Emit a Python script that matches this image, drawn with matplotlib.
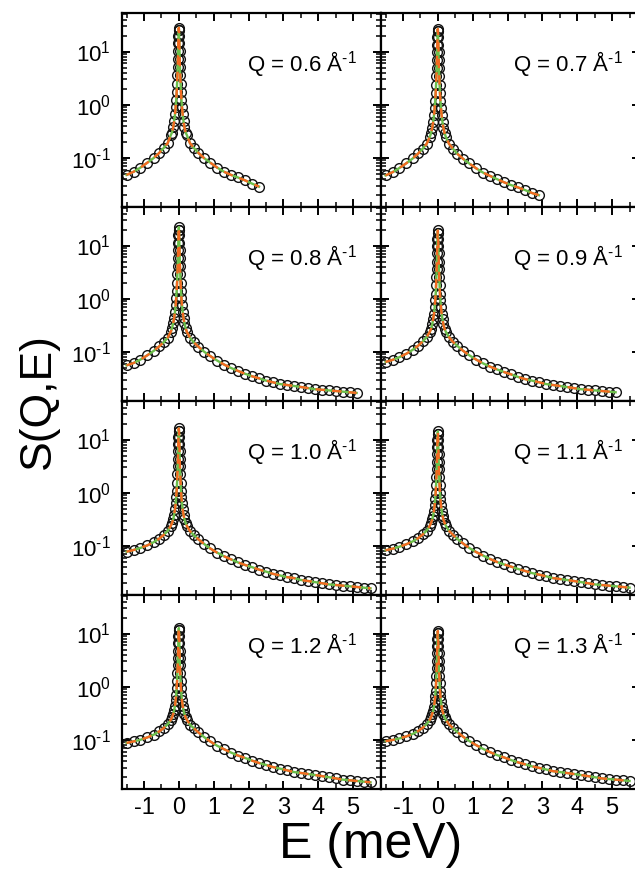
import matplotlib
matplotlib.use('Agg')
import matplotlib.pyplot as plt
from matplotlib.ticker import MultipleLocator, FixedLocator, FixedFormatter

plt.rcParams['font.family'] = ['Liberation Sans', 'DejaVu Sans']
plt.rcParams['mathtext.fontset'] = 'custom'
plt.rcParams['mathtext.rm'] = 'Liberation Sans'
plt.rcParams['mathtext.it'] = 'Liberation Sans:italic'
plt.rcParams['axes.unicode_minus'] = False

# Energy transfer grid (meV), shared by all spectra
E_grid = [-1.5, -1.3, -1.1, -0.9, -0.72, -0.56, -0.43, -0.32, -0.23,
          -0.195, -0.16, -0.135, -0.11, -0.09, -0.075, -0.062, -0.05, -0.04, -0.032, -0.026, -0.02, -0.015, -0.01, -0.005,
          0.0,
          0.005, 0.01, 0.015, 0.02, 0.026, 0.032, 0.04, 0.05, 0.062, 0.075, 0.09, 0.11, 0.135, 0.16, 0.195,
          0.23, 0.32, 0.43, 0.56, 0.72, 0.9, 1.1, 1.3, 1.5, 1.7, 1.9, 2.1, 2.3, 2.5, 2.7, 2.9, 3.1, 3.3, 3.5,
          3.7, 3.9, 4.1, 4.3, 4.5, 4.7, 4.9, 5.1, 5.3, 5.5]

q_labels = ['0.6', '0.7', '0.8', '0.9', '1.0', '1.1', '1.2', '1.3']

# S(Q,E), one list per Q (starts at E = -1.5)
s_q06 = [0.048, 0.055, 0.066, 0.082, 0.10, 0.125, 0.155, 0.19, 0.27,
         0.30, 0.38, 0.49, 0.66, 0.92, 1.24, 1.72, 2.5, 3.65, 5.2, 7.2, 10.3, 14.2, 19.5, 25.2,
         28.0,
         25.2, 19.5, 14.2, 10.3, 7.2, 5.2, 3.65, 2.5, 1.72, 1.24, 0.92, 0.66, 0.49, 0.38, 0.30,
         0.27, 0.19, 0.155, 0.125, 0.10, 0.082, 0.066, 0.055, 0.048, 0.043, 0.038, 0.033, 0.029]
s_q07 = [0.047, 0.054, 0.065, 0.080, 0.098, 0.122, 0.15, 0.185, 0.25,
         0.29, 0.37, 0.47, 0.63, 0.88, 1.19, 1.65, 2.38, 3.49, 5.0, 6.9, 9.8, 13.5, 18.6, 24.0,
         26.6,
         24.0, 18.6, 13.5, 9.8, 6.9, 5.0, 3.49, 2.38, 1.65, 1.19, 0.88, 0.63, 0.47, 0.37, 0.29,
         0.25, 0.185, 0.15, 0.12, 0.097, 0.079, 0.064, 0.053, 0.046, 0.040, 0.035, 0.031, 0.028, 0.025,
         0.022, 0.020]
s_q08 = [0.056, 0.062, 0.072, 0.087, 0.105, 0.128, 0.153, 0.186, 0.24,
         0.28, 0.35, 0.43, 0.57, 0.77, 1.03, 1.41, 2.02, 2.94, 4.2, 5.76, 8.2, 11.3, 15.5, 20.0,
         22.2,
         20.0, 15.5, 11.3, 8.2, 5.76, 4.2, 2.94, 2.02, 1.41, 1.03, 0.77, 0.57, 0.43, 0.35, 0.28,
         0.24, 0.185, 0.152, 0.126, 0.102, 0.084, 0.069, 0.058, 0.050, 0.044, 0.039, 0.035, 0.032, 0.029,
         0.027, 0.025, 0.024, 0.023, 0.022, 0.021, 0.020, 0.0195, 0.019, 0.0185, 0.018, 0.0175, 0.017]
s_q09 = [0.065, 0.071, 0.080, 0.093, 0.11, 0.132, 0.158, 0.19, 0.24,
         0.27, 0.33, 0.41, 0.52, 0.70, 0.93, 1.25, 1.78, 2.57, 3.66, 5.0, 7.1, 9.8, 13.4, 17.3,
         19.2,
         17.3, 13.4, 9.8, 7.1, 5.0, 3.66, 2.57, 1.78, 1.25, 0.93, 0.70, 0.52, 0.41, 0.33, 0.27,
         0.24, 0.19, 0.156, 0.13, 0.106, 0.087, 0.072, 0.061, 0.053, 0.047, 0.042, 0.038, 0.034, 0.031,
         0.029, 0.027, 0.025, 0.024, 0.023, 0.022, 0.021, 0.020, 0.0195, 0.019, 0.0185, 0.018, 0.0175]
s_q10 = [0.078, 0.084, 0.092, 0.103, 0.118, 0.138, 0.162, 0.192, 0.24,
         0.27, 0.32, 0.385, 0.49, 0.64, 0.83, 1.10, 1.55, 2.22, 3.13, 4.26, 6.0, 8.3, 11.4, 14.6,
         16.2,
         14.6, 11.4, 8.3, 6.0, 4.26, 3.13, 2.22, 1.55, 1.10, 0.83, 0.64, 0.49, 0.385, 0.32, 0.27,
         0.24, 0.19, 0.16, 0.134, 0.11, 0.09, 0.075, 0.064, 0.056, 0.049, 0.044, 0.040, 0.036, 0.033,
         0.030, 0.028, 0.026, 0.025, 0.023, 0.022, 0.021, 0.020, 0.019, 0.0185, 0.018, 0.0175, 0.017,
         0.0165, 0.016]
s_q11 = [0.083, 0.089, 0.097, 0.108, 0.122, 0.141, 0.165, 0.195, 0.24,
         0.27, 0.315, 0.37, 0.46, 0.59, 0.76, 1.0, 1.39, 1.97, 2.77, 3.77, 5.32, 7.28, 9.97, 12.8,
         14.2,
         12.8, 9.97, 7.28, 5.32, 3.77, 2.77, 1.97, 1.39, 1.0, 0.76, 0.59, 0.46, 0.37, 0.315, 0.27,
         0.24, 0.193, 0.163, 0.136, 0.112, 0.092, 0.077, 0.066, 0.057, 0.050, 0.045, 0.041, 0.037, 0.034,
         0.031, 0.029, 0.027, 0.025, 0.024, 0.023, 0.022, 0.021, 0.020, 0.019, 0.0185, 0.018, 0.0175,
         0.017, 0.0165]
s_q12 = [0.088, 0.094, 0.101, 0.112, 0.126, 0.145, 0.168, 0.197, 0.24,
         0.265, 0.31, 0.36, 0.44, 0.56, 0.71, 0.93, 1.27, 1.8, 2.51, 3.4, 4.78, 6.53, 8.93, 11.5,
         12.7,
         11.5, 8.93, 6.53, 4.78, 3.4, 2.51, 1.8, 1.27, 0.93, 0.71, 0.56, 0.44, 0.36, 0.31, 0.265,
         0.24, 0.195, 0.166, 0.139, 0.114, 0.094, 0.078, 0.067, 0.058, 0.051, 0.046, 0.041, 0.037, 0.034,
         0.031, 0.029, 0.027, 0.025, 0.024, 0.023, 0.022, 0.021, 0.020, 0.019, 0.018, 0.0175, 0.017,
         0.0165, 0.016]
s_q13 = [0.095, 0.10, 0.107, 0.117, 0.13, 0.148, 0.17, 0.199, 0.24,
         0.266, 0.31, 0.35, 0.425, 0.53, 0.66, 0.85, 1.16, 1.62, 2.24, 3.02, 4.25, 5.79, 7.9, 10.2,
         11.2,
         10.2, 7.9, 5.79, 4.25, 3.02, 2.24, 1.62, 1.16, 0.85, 0.66, 0.53, 0.425, 0.35, 0.31, 0.266,
         0.24, 0.197, 0.168, 0.141, 0.116, 0.096, 0.08, 0.068, 0.059, 0.052, 0.047, 0.042, 0.038, 0.035,
         0.032, 0.030, 0.028, 0.026, 0.025, 0.024, 0.023, 0.022, 0.021, 0.020, 0.019, 0.0185, 0.018,
         0.0175, 0.017]

spectra = [s_q06, s_q07, s_q08, s_q09, s_q10, s_q11, s_q12, s_q13]

y_ticks = [0.1, 1, 10]
y_tick_labels = [r'$10^{\text{-1}}$', r'$10^{0}$', r'$10^{1}$']

orange = '#F26A21'
green = '#6CBF4A'

fig = plt.figure(figsize=(6.35, 8.72), dpi=100)
gs = fig.add_gridspec(4, 2, left=122/635, right=640/635, top=1-13/872, bottom=1-789/872,
                      wspace=0, hspace=0)

for k in range(8):
    row, col = k // 2, k % 2
    ax = fig.add_subplot(gs[row, col])
    s = spectra[k]
    e = E_grid[:len(s)]

    ax.plot(e, s, 'o', mfc='none', mec='#111111', ms=7, mew=1.0, zorder=2)
    ax.plot(e, s, '-', color=green, lw=1.7, zorder=3)
    ax.plot(e, s, '-', color=orange, lw=1.7, dashes=(4, 3), zorder=4)

    ax.set_yscale('log')
    ax.set_ylim(0.012, 53)
    ax.set_xlim(-1.63, 5.8)
    ax.yaxis.set_major_locator(FixedLocator(y_ticks))
    ax.yaxis.set_major_formatter(FixedFormatter(y_tick_labels))
    ax.xaxis.set_major_locator(MultipleLocator(1))
    ax.xaxis.set_minor_locator(MultipleLocator(0.5))
    ax.tick_params(which='both', direction='in', top=True, right=True, labelsize=16)
    ax.tick_params(axis='x', labelsize=17)
    ax.tick_params(which='major', length=6, width=1.4)
    ax.tick_params(which='minor', length=3.5, width=1.1)
    ax.tick_params(axis='y', which='major', pad=8)
    ax.tick_params(axis='x', which='major', pad=6)
    for sp in ax.spines.values():
        sp.set_linewidth(1.6)

    if col == 1:
        ax.tick_params(labelleft=False)
    if row < 3:
        ax.tick_params(labelbottom=False)

    tx = 0.905 if col == 0 else 0.935
    ax.text(tx, 0.735, 'Q = ' + q_labels[k] + r' Å$^{\text{-1}}$', transform=ax.transAxes,
            ha='right', va='center', fontsize=16)

fig.text(0.06, 0.54, 'S(Q,E)', rotation=90, ha='center', va='center', fontsize=32)
fig.text(0.583, 0.031, 'E (meV)', ha='center', va='center', fontsize=36)

fig.savefig('out.png', dpi=100)
